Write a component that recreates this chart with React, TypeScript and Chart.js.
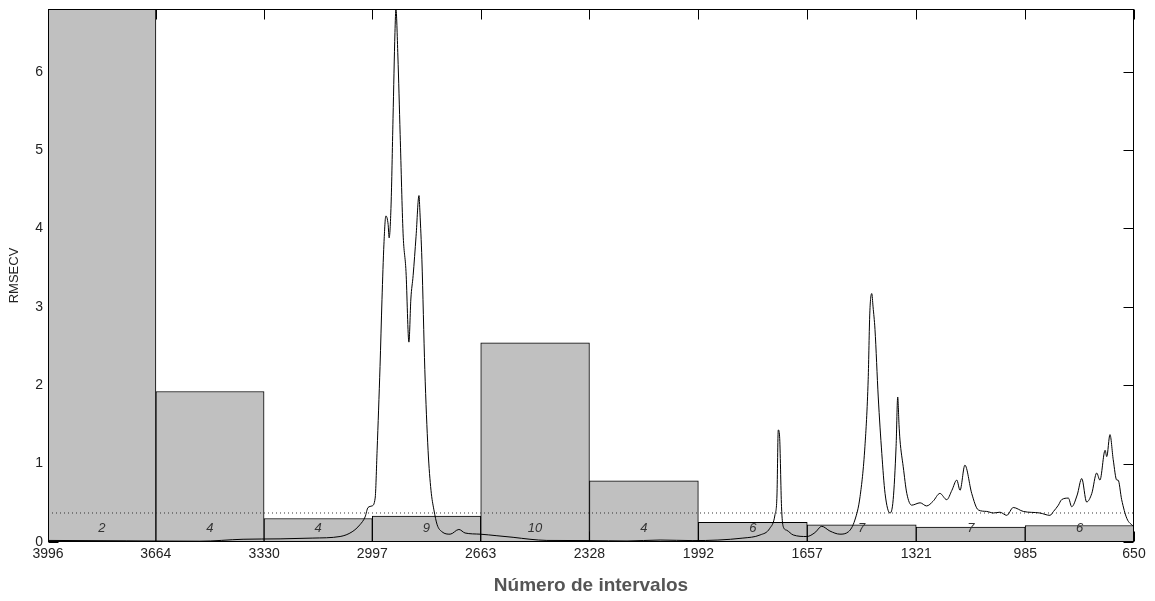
import { useEffect, useRef } from "react";
import { Chart, registerables } from "chart.js";

Chart.register(...registerables);

// Interval boundaries (wavenumber, cm-1) used as x tick labels
const INTERVAL_EDGES = [3996, 3664, 3330, 2997, 2663, 2328, 1992, 1657, 1321, 985, 650];
// RMSECV of each interval model (first one runs off the top of the plot)
const RMSECV = [7.2, 1.92, 0.3, 0.33, 2.54, 0.78, 0.25, 0.22, 0.19, 0.21];
// Number of latent variables written inside each bar
const LV_LABELS = ["2", "4", "4", "9", "10", "4", "6", "7", "7", "6"];
// RMSECV of the global model (dotted line)
const GLOBAL_RMSECV = 0.37;
const Y_TICKS = [0, 1, 2, 3, 4, 5, 6];
const Y_MAX = 6.8;
const LABEL_LEVEL = 0.18;

// Mean spectrum overlaid on the bars (scaled)
const SPEC_WN = [
  3996, 3753, 3528, 3395, 3281, 3180, 3096, 3059, 3035, 3019, 3010, 2998, 2988, 2982, 2973, 2967,
  2961, 2955, 2948, 2945, 2939, 2933, 2927, 2924, 2918, 2911, 2902, 2893, 2884, 2878, 2871, 2862,
  2853, 2850, 2844, 2835, 2825, 2816, 2807, 2797, 2782, 2757, 2730, 2711, 2665, 2613, 2563, 2511,
  2459, 2326, 2212, 2110, 2009, 1855, 1802, 1772, 1756, 1750, 1746, 1742, 1736, 1731, 1720, 1700,
  1658, 1633, 1612, 1587, 1556, 1530, 1510, 1494, 1479, 1469, 1464, 1458, 1454, 1448, 1438, 1427,
  1417, 1402, 1392, 1383, 1378, 1374, 1371, 1361, 1350, 1335, 1309, 1289, 1269, 1248, 1227, 1211,
  1196, 1186, 1171, 1150, 1130, 1104, 1083, 1063, 1042, 1022, 991, 940, 909, 898, 883, 873, 852,
  842, 825, 811, 796, 780, 765, 755, 739, 734, 724, 714, 703, 699, 688, 672, 652, 650,
];
const SPEC_VAL = [
  0.02, 0.015, 0.01, 0.035, 0.04, 0.05, 0.07, 0.13, 0.22, 0.32, 0.44, 0.46, 0.56, 1.17, 2.24, 3.09,
  3.8, 4.16, 4.05, 3.88, 4.3, 5.4, 6.5, 6.8, 6.2, 5.2, 3.94, 3.45, 2.55, 3.1, 3.4, 3.9,
  4.42, 4.2, 3.6, 2.2, 1.17, 0.66, 0.41, 0.22, 0.13, 0.1, 0.16, 0.115, 0.1, 0.08, 0.06, 0.035,
  0.02, 0.018, 0.013, 0.025, 0.018, 0.05, 0.09, 0.175, 0.35, 0.6, 1.43, 1.35, 0.45, 0.2, 0.15, 0.09,
  0.07, 0.12, 0.2, 0.14, 0.1, 0.13, 0.28, 0.58, 1.22, 2.07, 2.92, 3.17, 3.0, 2.71, 1.85, 1.13,
  0.62, 0.37, 0.54, 1.22, 1.85, 1.5, 1.3, 0.96, 0.62, 0.47, 0.5, 0.46, 0.52, 0.62, 0.54, 0.66,
  0.79, 0.66, 0.98, 0.62, 0.41, 0.39, 0.37, 0.38, 0.34, 0.44, 0.39, 0.37, 0.34, 0.39, 0.47, 0.54, 0.56,
  0.45, 0.6, 0.81, 0.51, 0.62, 0.88, 0.79, 1.17, 1.09, 1.37, 1.05, 0.79, 0.79, 0.54, 0.3, 0.2, 0.19,
];

const FONT = "'Liberation Sans', Arial, sans-serif";

export default function App() {
  const canvasRef = useRef<HTMLCanvasElement | null>(null);

  useEffect(() => {
    document.body.style.margin = "0";
    const canvas = canvasRef.current;
    if (!canvas) return;

    const centers = RMSECV.map((_, i) => (INTERVAL_EDGES[i] + INTERVAL_EDGES[i + 1]) / 2);

    const framePlugin = {
      id: "matlabFrame",
      beforeDatasetsDraw(chart: any) {
        const { ctx, chartArea: a, scales } = chart;
        const x = scales.x;
        const y = scales.y;
        const top = Math.round(a.top) + 0.5;
        const bottom = Math.round(a.bottom) - 0.5;
        const left = Math.round(a.left) + 0.5;
        const right = Math.round(a.right) - 0.5;
        ctx.save();
        ctx.strokeStyle = "#000";
        ctx.lineWidth = 1;
        ctx.beginPath();
        x.ticks.forEach((t: any) => {
          const px = Math.round(x.getPixelForValue(t.value)) + 0.5;
          ctx.moveTo(px, top);
          ctx.lineTo(px, top + 10);
          ctx.moveTo(px, bottom);
          ctx.lineTo(px, bottom - 10);
        });
        y.ticks.forEach((t: any) => {
          const py = Math.round(y.getPixelForValue(t.value)) + 0.5;
          ctx.moveTo(left, py);
          ctx.lineTo(left + 10, py);
          ctx.moveTo(right, py);
          ctx.lineTo(right - 10, py);
        });
        ctx.stroke();
        ctx.restore();
      },
      afterDatasetsDraw(chart: any) {
        const { ctx, chartArea: a, scales } = chart;
        const x = scales.x;
        const y = scales.y;
        ctx.save();
        ctx.fillStyle = "#333";
        ctx.font = `italic 13px ${FONT}`;
        ctx.textAlign = "center";
        ctx.textBaseline = "middle";
        LV_LABELS.forEach((lab, i) => {
          ctx.fillText(lab, x.getPixelForValue(centers[i]), y.getPixelForValue(LABEL_LEVEL));
        });
        const top = Math.round(a.top) + 0.5;
        const bottom = Math.round(a.bottom) - 0.5;
        const left = Math.round(a.left) + 0.5;
        const right = Math.round(a.right) - 0.5;
        ctx.strokeStyle = "#000";
        ctx.lineWidth = 1;
        ctx.strokeRect(left, top, right - left, bottom - top);
        ctx.restore();
      },
    };

    const chart = new Chart(canvas, {
      type: "bar",
      data: {
        datasets: [
          {
            type: "line",
            label: "Spectrum",
            data: SPEC_WN.map((w, i) => ({ x: w, y: SPEC_VAL[i] })),
            borderColor: "#000",
            borderWidth: 1,
            pointRadius: 0,
            cubicInterpolationMode: "monotone",
            order: 0,
          } as any,
          {
            type: "line",
            label: "Global",
            data: [
              { x: INTERVAL_EDGES[0], y: GLOBAL_RMSECV },
              { x: INTERVAL_EDGES[INTERVAL_EDGES.length - 1], y: GLOBAL_RMSECV },
            ],
            borderColor: "#333",
            borderWidth: 1,
            borderDash: [1, 3],
            pointRadius: 0,
            order: 1,
          } as any,
          {
            type: "bar",
            label: "RMSECV",
            data: centers.map((c, i) => ({ x: c, y: RMSECV[i] })),
            backgroundColor: "#c0c0c0",
            borderColor: "#000",
            borderWidth: 1,
            borderSkipped: false,
            barThickness: "flex",
            barPercentage: 1,
            categoryPercentage: 1,
            order: 2,
          } as any,
        ],
      },
      options: {
        responsive: false,
        animation: false,
        events: [],
        layout: { padding: { top: 9, right: 21, left: 0, bottom: 0 } },
        plugins: {
          legend: { display: false },
          tooltip: { enabled: false },
        },
        scales: {
          x: {
            type: "linear",
            reverse: true,
            min: INTERVAL_EDGES[INTERVAL_EDGES.length - 1],
            max: INTERVAL_EDGES[0],
            offset: false,
            grid: { display: false, drawTicks: false, offset: false },
            border: { display: false },
            afterBuildTicks: (scale: any) => {
              scale.ticks = INTERVAL_EDGES.map((v) => ({ value: v }));
            },
            afterFit: (scale: any) => {
              scale.height = 59;
            },
            ticks: {
              autoSkip: false,
              maxRotation: 0,
              padding: 4,
              color: "#222",
              font: { family: FONT, size: 14 },
              callback: (v: any) => String(v),
            },
            title: {
              display: true,
              text: "Número de intervalos",
              color: "#555",
              font: { family: FONT, size: 19, weight: "bold" },
              padding: { top: 0, bottom: 4 },
            },
          },
          y: {
            type: "linear",
            min: 0,
            max: Y_MAX,
            grid: { display: false, drawTicks: true, tickLength: 5 },
            border: { display: false },
            afterBuildTicks: (scale: any) => {
              scale.ticks = Y_TICKS.map((v) => ({ value: v }));
            },
            afterFit: (scale: any) => {
              scale.width = 48;
            },
            ticks: {
              padding: 0,
              color: "#222",
              font: { family: FONT, size: 14 },
              callback: (v: any) => String(v),
            },
            title: {
              display: true,
              text: "RMSECV",
              color: "#222",
              font: { family: FONT, size: 13 },
              padding: { top: 7, bottom: 0 },
            },
          },
        },
      },
      plugins: [framePlugin],
    } as any);

    return () => chart.destroy();
  }, []);

  return (
    <div style={{ width: 1155, height: 601, background: "#fff" }}>
      <canvas ref={canvasRef} width={1155} height={601} style={{ display: "block" }} />
    </div>
  );
}
